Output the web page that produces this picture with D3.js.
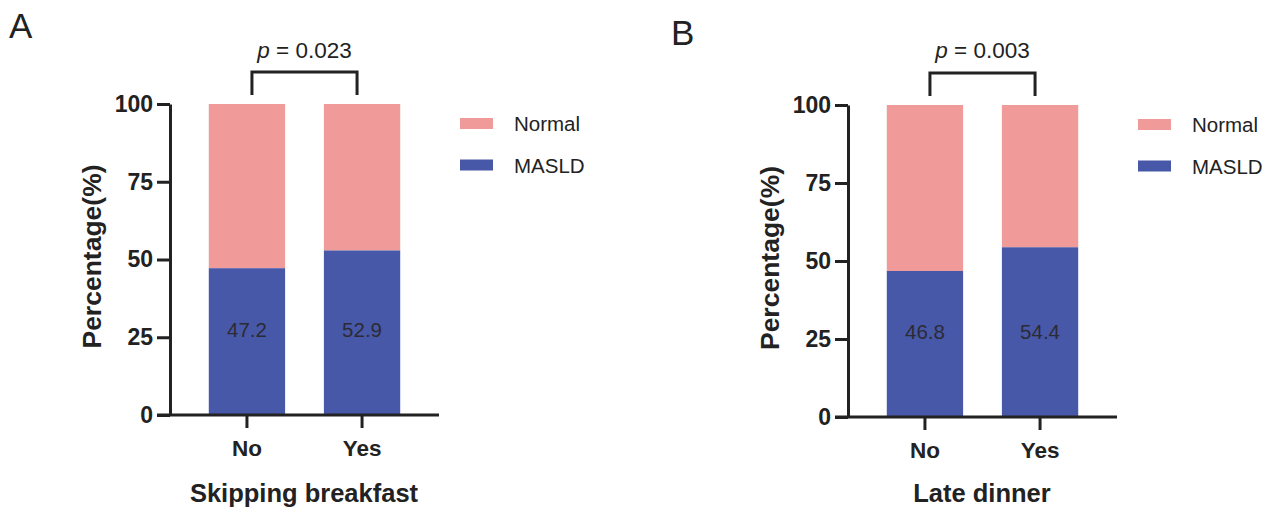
<!DOCTYPE html>
<html>
<head>
<meta charset="utf-8">
<script src="https://cdn.jsdelivr.net/npm/d3@7"></script>
<style>
body { margin: 0; background: #ffffff; }
svg { display: block; font-family: Arial, "Liberation Sans", sans-serif; }
</style>
</head>
<body>
<div class="chartfield"></div>
<script>
// data
var categories = ["No", "Yes"];
var panelLetters = ["A", "B"];
var panelTitles = ["Skipping breakfast", "Late dinner"];
var masld = [[47.2, 52.9], [46.8, 54.4]];
var pValues = ["0.023", "0.003"];
var yTicks = [0, 25, 50, 75, 100];
var seriesNames = ["Normal", "MASLD"];

var width = 1273;
var height = 508;
var colorNormal = "#f19a9a";
var colorMasld = "#4858a8";
var ink = "#222222";

// per panel layout: axis x, top (100) and bottom (0) of the plot, letter pos
var panels = [
	{ax: 170, top: 104, bottom: 415, letterX: 9, letterY: 38},
	{ax: 848, top: 105, bottom: 417, letterX: 671, letterY: 45}
];

var svg = d3.select(".chartfield")
	.append("svg")
	.attr("width", width)
	.attr("height", height);

function drawPanel(k) {
	var p = panels[k];
	var g = svg.append("g");

	var x = d3.scaleBand()
		.domain(categories)
		.range([p.ax, p.ax + 269])
		.padding(0.337);
	var y = d3.scaleLinear()
		.domain([0, 100])
		.range([p.bottom, p.top]);

	var rows = categories.map(function(c, i) {
		return {cat: c, masld: masld[k][i], normal: 100 - masld[k][i]};
	});

	// stacked bars: MASLD at bottom, Normal on top
	g.selectAll("rect.normal")
		.data(rows)
		.enter().append("rect")
		.attr("class", "normal")
		.attr("x", function(d) { return x(d.cat); })
		.attr("width", x.bandwidth())
		.attr("y", y(100))
		.attr("height", function(d) { return y(d.masld) - y(100); })
		.attr("fill", colorNormal);

	g.selectAll("rect.masld")
		.data(rows)
		.enter().append("rect")
		.attr("class", "masld")
		.attr("x", function(d) { return x(d.cat); })
		.attr("width", x.bandwidth())
		.attr("y", function(d) { return y(d.masld); })
		.attr("height", function(d) { return y(0) - y(d.masld); })
		.attr("fill", colorMasld);

	// value labels (all at same level)
	g.selectAll("text.val")
		.data(rows)
		.enter().append("text")
		.attr("class", "val")
		.attr("x", function(d) { return x(d.cat) + x.bandwidth() / 2; })
		.attr("y", y(27.5) + 8)
		.attr("text-anchor", "middle")
		.attr("font-size", 20.5)
		.attr("fill", "#2b2b35")
		.text(function(d) { return d.masld.toFixed(1); });

	// y axis
	var yAxis = d3.axisLeft(y)
		.tickValues(yTicks)
		.tickSize(13)
		.tickSizeOuter(0)
		.tickPadding(4);
	var ya = g.append("g")
		.attr("transform", "translate(" + p.ax + ",0)")
		.call(yAxis);
	ya.select(".domain").attr("stroke", ink).attr("stroke-width", 3);
	ya.selectAll(".tick line").attr("stroke", ink).attr("stroke-width", 3);
	ya.selectAll(".tick text")
		.attr("font-size", 23)
		.attr("font-weight", "bold")
		.attr("font-family", "Arial, 'Liberation Sans', sans-serif")
		.attr("fill", ink);

	// x axis
	var xAxis = d3.axisBottom(x)
		.tickSize(13)
		.tickSizeOuter(0)
		.tickPadding(12);
	var xa = g.append("g")
		.attr("transform", "translate(0," + p.bottom + ")")
		.call(xAxis);
	xa.select(".domain").remove();
	xa.selectAll(".tick line").attr("stroke", ink).attr("stroke-width", 3);
	xa.selectAll(".tick text")
		.attr("font-size", 22.5)
		.attr("font-weight", "bold")
		.attr("font-family", "Arial, 'Liberation Sans', sans-serif")
		.attr("fill", ink);
	g.append("line")
		.attr("x1", p.ax - 13)
		.attr("x2", x.range()[1])
		.attr("y1", p.bottom)
		.attr("y2", p.bottom)
		.attr("stroke", ink)
		.attr("stroke-width", 3);

	// axis titles
	g.append("text")
		.attr("transform", "translate(" + (p.ax - 69) + "," + ((p.top + p.bottom) / 2 - 3) + ") rotate(-90)")
		.attr("text-anchor", "middle")
		.attr("font-size", 26.5)
		.attr("font-weight", "bold")
		.attr("fill", ink)
		.text("Percentage(%)");

	g.append("text")
		.attr("x", (p.ax - 13 + x.range()[1]) / 2 + 6)
		.attr("y", 502)
		.attr("text-anchor", "middle")
		.attr("font-size", 25.5)
		.attr("font-weight", "bold")
		.attr("fill", ink)
		.text(panelTitles[k]);

	// significance bracket
	var bx1 = x(categories[0]) + x.bandwidth() / 2 + 5;
	var bx2 = x(categories[1]) + x.bandwidth() / 2 - 5;
	var by = p.top - 32;
	g.append("path")
		.attr("d", "M" + bx1 + "," + (p.top - 9) + " L" + bx1 + "," + by + " L" + bx2 + "," + by + " L" + bx2 + "," + (p.top - 9))
		.attr("fill", "none")
		.attr("stroke", ink)
		.attr("stroke-width", 3);

	var pt = g.append("text")
		.attr("x", (bx1 + bx2) / 2)
		.attr("y", 58)
		.attr("text-anchor", "middle")
		.attr("font-size", 22.5)
		.attr("fill", ink);
	pt.append("tspan").attr("font-style", "italic").text("p");
	pt.append("tspan").text(" = " + pValues[k]);

	// panel letter
	g.append("text")
		.attr("x", p.letterX)
		.attr("y", p.letterY)
		.attr("font-size", 35)
		.attr("fill", ink)
		.text(panelLetters[k]);

	// legend
	var legColors = [colorNormal, colorMasld];
	var leg = g.selectAll("g.leg")
		.data(seriesNames)
		.enter().append("g")
		.attr("class", "leg")
		.attr("transform", function(d, i) {
			return "translate(" + (p.ax + 290) + "," + (p.top + 19.5 + i * 41.5) + ")";
		});
	leg.append("rect")
		.attr("x", 0)
		.attr("y", -5.5)
		.attr("width", 33)
		.attr("height", 11)
		.attr("fill", function(d, i) { return legColors[i]; });
	leg.append("text")
		.attr("x", 54)
		.attr("y", 7.5)
		.attr("font-size", 20.5)
		.attr("fill", ink)
		.text(function(d) { return d; });
}

drawPanel(0);
drawPanel(1);
</script>
</body>
</html>
